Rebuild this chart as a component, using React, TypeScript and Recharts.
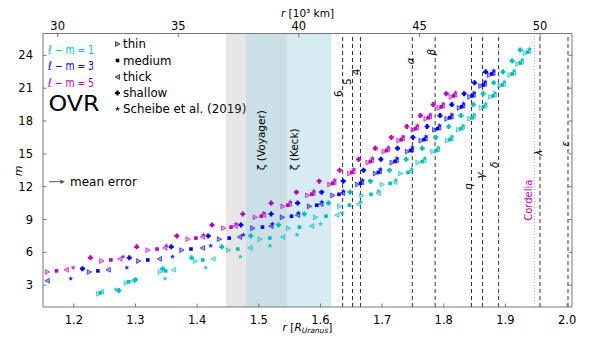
import React from "react";
import {
  Customized,
  ReferenceArea,
  ReferenceDot,
  ReferenceLine,
  Scatter,
  ScatterChart,
  XAxis,
  YAxis,
} from "recharts";

const FONT = "DejaVu Sans, sans-serif";
const CYAN = "#00bfbf";
const BLUE = "#0000ff";
const MAGENTA = "#bf00bf";
const SPINE = "#777";

// r in R_Uranus, the top axis shows the same range in 10^3 km
const R_URANUS_KM = 25559;
const rDomain = [1.15, 2.008];
const mDomain = [1, 26];
const rTicks = [1.2, 1.3, 1.4, 1.5, 1.6, 1.7, 1.8, 1.9, 2.0];
const kmTicks = [30, 35, 40, 45, 50];
const mTicks = [3, 6, 9, 12, 15, 18, 21, 24];

const modelKinds = ["thin", "medium", "thick", "shallow", "scheibe"];
const modelLabels = ["thin", "medium", "thick", "shallow", "Scheibe et al. (2019)"];
// small vertical stagger of each model above its m
const modelShift = [0.2, 0.3, 0.4, 0.5, 0.6];

// l - m = 1
const cyanM = [2, 3, 4, 5, 6, 7, 8, 9, 10, 11, 12, 13, 14, 15, 16, 17, 18, 19, 20, 21, 22, 23, 24];
const cyanThin = [1.240, 1.285, 1.340, 1.397, 1.451, 1.502, 1.548, 1.592, 1.631, 1.667, 1.700, 1.730, 1.758, 1.782, 1.806, 1.824, 1.842, 1.861, 1.876, 1.891, 1.907, 1.920, 1.932];
const cyanMedium = [1.243, 1.289, 1.349, 1.409, 1.466, 1.518, 1.566, 1.609, 1.647, 1.682, 1.713, 1.742, 1.765, 1.788, 1.810, 1.828, 1.846, 1.865, 1.880, 1.895, 1.911, 1.924, 1.936];
const cyanThick = [1.245, 1.296, 1.362, 1.426, 1.486, 1.539, 1.586, 1.627, 1.662, 1.694, 1.721, 1.746, 1.768, 1.790, 1.812, 1.830, 1.848, 1.867, 1.882, 1.897, 1.913, 1.926, 1.938];
const cyanShallow = [1.273, 1.300, 1.344, 1.391, 1.440, 1.487, 1.532, 1.574, 1.613, 1.648, 1.681, 1.712, 1.739, 1.765, 1.787, 1.808, 1.828, 1.848, 1.864, 1.881, 1.896, 1.911, 1.924];
const cyanScheibe = [1.268, 1.348, 1.414, 1.470, 1.518, 1.562, 1.600, 1.635, 1.665, 1.694, 1.722, 1.748, 1.769, 1.791, 1.813, 1.831, 1.849, 1.868, 1.883, 1.898, 1.914, 1.927, 1.939];

// l - m = 3
const blueM = [3, 4, 5, 6, 7, 8, 9, 10, 11, 12, 13, 14, 15, 16, 17, 18, 19, 20, 21, 22];
const blueThin = [null, 1.225, 1.305, 1.375, 1.436, 1.490, 1.538, 1.582, 1.620, 1.660, 1.689, 1.716, 1.741, 1.763, 1.785, 1.805, 1.825, 1.842, 1.860, 1.874];
const blueMedium = [null, 1.239, 1.320, 1.390, 1.452, 1.506, 1.553, 1.594, 1.630, 1.665, 1.694, 1.721, 1.746, 1.768, 1.790, 1.810, 1.829, 1.846, 1.864, 1.878];
const blueThick = [1.157, 1.256, 1.339, 1.409, 1.469, 1.520, 1.563, 1.601, 1.636, 1.667, 1.696, 1.723, 1.748, 1.770, 1.792, 1.812, 1.831, 1.848, 1.866, 1.880];
const blueShallow = [null, 1.214, 1.290, 1.358, 1.418, 1.471, 1.520, 1.563, 1.602, 1.637, 1.670, 1.698, 1.725, 1.750, 1.773, 1.794, 1.813, 1.833, 1.850, 1.868];
const blueScheibe = [1.195, 1.286, 1.360, 1.422, 1.475, 1.522, 1.564, 1.602, 1.637, 1.668, 1.697, 1.724, 1.749, 1.771, 1.793, 1.813, 1.832, 1.849, 1.867, 1.881];

// l - m = 5
const magentaM = [4, 5, 6, 7, 8, 9, 10, 11, 12, 13, 14, 15, 16, 17, 18, 19, 20];
const magentaThin = [1.157, 1.245, 1.320, 1.385, 1.443, 1.494, 1.539, 1.579, 1.615, 1.647, 1.677, 1.703, 1.727, 1.750, 1.771, 1.792, 1.812];
const magentaMedium = [1.172, 1.260, 1.335, 1.398, 1.455, 1.504, 1.547, 1.586, 1.620, 1.651, 1.681, 1.707, 1.731, 1.754, 1.775, 1.796, 1.816];
const magentaThick = [1.188, 1.275, 1.348, 1.409, 1.462, 1.508, 1.550, 1.588, 1.622, 1.653, 1.683, 1.709, 1.733, 1.756, 1.777, 1.798, 1.818];
const magentaShallow = [null, 1.227, 1.302, 1.367, 1.424, 1.474, 1.520, 1.561, 1.598, 1.631, 1.662, 1.689, 1.715, 1.740, 1.762, 1.783, 1.804];
const magentaScheibe = [1.199, 1.280, 1.350, 1.410, 1.463, 1.508, 1.551, 1.589, 1.623, 1.654, 1.684, 1.710, 1.734, 1.757, 1.778, 1.799, 1.819];

// ring radii and their label spots
const ringNames = ["6", "5", "4", "α", "β", "η", "γ", "δ", "λ", "ε"];
const ringR = [1.636, 1.652, 1.665, 1.749, 1.786, 1.845, 1.863, 1.889, 1.956, 2.0015];
const ringLabelR = [1.628, 1.643, 1.658, 1.746, 1.780, 1.840, 1.859, 1.881, 1.953, 1.996];
const ringLabelM = [20.5, 21.6, 22.5, 23.5, 24.3, 12.0, 13.0, 14.0, 15.1, 15.9];
const cordeliaR = 1.947;
const cordeliaLabel = { r: 1.937, m: 10.76 };

// zeta ring extents
const zetaVoyager = [1.447, 1.546];
const zetaKeck = [1.4795, 1.6175];

const families = [
  { label: "1", color: CYAN, m: cyanM, x: [cyanThin, cyanMedium, cyanThick, cyanShallow, cyanScheibe] },
  { label: "3", color: BLUE, m: blueM, x: [blueThin, blueMedium, blueThick, blueShallow, blueScheibe] },
  { label: "5", color: MAGENTA, m: magentaM, x: [magentaThin, magentaMedium, magentaThick, magentaShallow, magentaScheibe] },
];

// inside tick length in data units (about 3.5px each way)
const TICK_R = 0.0057;
const TICK_M = 0.32;

function markerEl(kind: string, cx: number, cy: number, color: string, key?: string) {
  if (kind === "thin" || kind === "thick") {
    const d = kind === "thin" ? 1 : -1;
    const pts = `${cx - 2 * d},${cy - 2.4} ${cx + 2.4 * d},${cy} ${cx - 2 * d},${cy + 2.4}`;
    return <polygon key={key} points={pts} fill={color} fillOpacity={0.35} stroke={color} strokeOpacity={0.8} strokeWidth={0.8} />;
  }
  if (kind === "medium") {
    return <rect key={key} x={cx - 1.8} y={cy - 1.8} width={3.6} height={3.6} fill={color} />;
  }
  if (kind === "shallow") {
    const a = 2.5;
    const w = 1.1;
    const p = `M${cx - w},${cy - a}H${cx + w}V${cy - w}H${cx + a}V${cy + w}H${cx + w}V${cy + a}H${cx - w}V${cy + w}H${cx - a}V${cy - w}H${cx - w}Z`;
    return <path key={key} d={p} fill={color} />;
  }
  const pts: string[] = [];
  for (let i = 0; i < 10; i++) {
    const rad = i % 2 === 0 ? 2.7 : 1.1;
    const ang = -Math.PI / 2 + (i * Math.PI) / 5;
    pts.push(`${cx + rad * Math.cos(ang)},${cy + rad * Math.sin(ang)}`);
  }
  return <polygon key={key} points={pts.join(" ")} fill={color} fillOpacity={0.85} />;
}

function shapeFor(kind: string, color: string) {
  return (props: any) => {
    const { cx, cy } = props;
    if (cx == null || cy == null) return <g />;
    return markerEl(kind, cx, cy, color);
  };
}

function rotatedLabel(text: string, color = "#000", italic = false, anchor: "middle" | "start" = "middle", size = 10.5) {
  return (props: any) => {
    const vb = props.viewBox || {};
    const x = vb.x + (vb.width || 0) / 2;
    const y = vb.y + (vb.height || 0) / 2;
    return (
      <text
        x={x}
        y={y}
        transform={`rotate(-90 ${x} ${y})`}
        textAnchor={anchor}
        dominantBaseline="central"
        fontFamily={FONT}
        fontSize={size}
        fontStyle={italic ? "italic" : "normal"}
        fill={color}
      >
        {text}
      </text>
    );
  };
}

function topTickLabel(text: string) {
  return (props: any) => {
    const vb = props.viewBox || {};
    const x = vb.x + (vb.width || 0) / 2;
    const y = vb.y + (vb.height || 0) / 2;
    return (
      <text x={x} y={y - 4} textAnchor="middle" fontFamily={FONT} fontSize={11.5} fill="#000">
        {text}
      </text>
    );
  };
}

function Overlay() {
  const lmBase = [53.5, 70, 86.5];
  const legendBase = [48, 64.5, 81, 97, 113];
  return (
    <g fontFamily={FONT}>
      {families.map((f, i) => (
        <text key={f.label} x={48} y={lmBase[i]} fontSize={12} fill={f.color} textLength={46} lengthAdjust="spacingAndGlyphs">
          {`ℓ − m = ${f.label}`}
        </text>
      ))}
      <text x={48.5} y={110.5} fontSize={22} fill="#000" textLength={51} lengthAdjust="spacingAndGlyphs">
        OVR
      </text>
      {modelKinds.map((k, i) => (
        <g key={k}>
          {markerEl(k, 117.5, legendBase[i] - 4, "#000")}
          <text x={123} y={legendBase[i]} fontSize={11.8} fill="#000">
            {modelLabels[i]}
          </text>
        </g>
      ))}
      <line x1={49} x2={62} y1={181.7} y2={181.7} stroke="#555" strokeWidth={1} />
      <polygon points="65,181.7 60.5,179.5 60.5,183.9" fill="#555" />
      <text x={70} y={185.8} fontSize={12} fill="#000">
        mean error
      </text>
      <text x={307.5} y={17} fontSize={10.5} textAnchor="middle" fill="#000">
        <tspan fontStyle="italic">r</tspan>
        <tspan> [10³ km]</tspan>
      </text>
      <text x={307.5} y={331} fontSize={10.5} textAnchor="middle" fill="#000">
        <tspan fontStyle="italic">r</tspan>
        <tspan> [</tspan>
        <tspan fontStyle="italic">R</tspan>
        <tspan fontStyle="italic" fontSize={7.5} dy={2}>Uranus</tspan>
        <tspan dy={-2}>]</tspan>
      </text>
      <text x={18} y={171} fontSize={11} fontStyle="italic" textAnchor="middle" dominantBaseline="central" transform="rotate(-90 18 171)" fill="#000">
        m
      </text>
    </g>
  );
}

export default function App() {
  const tickStyle = { fontSize: 11.5, fill: "#000", fontFamily: FONT };
  const kmTickR = kmTicks.map((km) => (km * 1000) / R_URANUS_KM);
  return (
    <div style={{ position: "absolute", left: 0, top: 0, width: 598, height: 342, background: "#fff" }}>
      <ScatterChart width={598} height={342} margin={{ top: 33.5, right: 26, bottom: 7, left: 8 }}>
        <XAxis
          dataKey="r"
          type="number"
          domain={rDomain}
          ticks={rTicks}
          allowDataOverflow
          tickFormatter={(v) => Number(v).toFixed(1)}
          tick={tickStyle}
          tickLine={false}
          tickMargin={3}
          height={28}
          axisLine={{ stroke: SPINE }}
        />
        <YAxis
          dataKey="m"
          type="number"
          domain={mDomain}
          ticks={mTicks}
          allowDataOverflow
          tick={tickStyle}
          tickLine={false}
          tickMargin={4}
          width={35}
          axisLine={{ stroke: SPINE }}
        />

        <ReferenceArea x1={zetaVoyager[0]} x2={zetaVoyager[1]} fill="#808080" fillOpacity={0.2} stroke="none" ifOverflow="visible" />
        <ReferenceArea x1={zetaKeck[0]} x2={zetaKeck[1]} fill="#add8e6" fillOpacity={0.5} stroke="none" ifOverflow="visible" />

        {ringR.map((r, i) => (
          <ReferenceLine key={ringNames[i]} x={r} stroke="#333" strokeDasharray="4 3" strokeWidth={1} />
        ))}
        <ReferenceLine x={cordeliaR} stroke={MAGENTA} strokeOpacity={0.5} strokeDasharray="1 2" strokeWidth={1} />

        {/* frame: right and top spines */}
        <ReferenceLine x={rDomain[1]} stroke={SPINE} strokeWidth={1} ifOverflow="visible" />
        <ReferenceLine y={mDomain[1]} stroke={SPINE} strokeWidth={1} ifOverflow="visible" />

        {/* inward ticks on all four sides */}
        {rTicks.map((t) => (
          <ReferenceLine key={`bt${t}`} segment={[{ x: t, y: mDomain[0] }, { x: t, y: mDomain[0] + TICK_M }]} stroke={SPINE} ifOverflow="visible" />
        ))}
        {kmTickR.map((t) => (
          <ReferenceLine key={`tt${t}`} segment={[{ x: t, y: mDomain[1] }, { x: t, y: mDomain[1] - TICK_M }]} stroke={SPINE} ifOverflow="visible" />
        ))}
        {mTicks.map((t) => (
          <ReferenceLine key={`lt${t}`} segment={[{ x: rDomain[0], y: t }, { x: rDomain[0] + TICK_R, y: t }]} stroke={SPINE} ifOverflow="visible" />
        ))}
        {mTicks.map((t) => (
          <ReferenceLine key={`rt${t}`} segment={[{ x: rDomain[1], y: t }, { x: rDomain[1] - TICK_R, y: t }]} stroke={SPINE} ifOverflow="visible" />
        ))}

        {families.map((f) =>
          modelKinds.map((k, ki) => (
            <Scatter
              key={`${f.label}-${k}`}
              data={f.m
                .map((m, i) => ({ r: f.x[ki][i], m: m + modelShift[ki] }))
                .filter((p) => p.r != null)}
              fill={f.color}
              shape={shapeFor(k, f.color)}
              isAnimationActive={false}
            />
          ))
        )}

        {kmTicks.map((km, i) => (
          <ReferenceDot key={`km${km}`} x={kmTickR[i]} y={mDomain[1]} r={0} fill="none" stroke="none" ifOverflow="visible" label={topTickLabel(String(km))} />
        ))}

        {ringNames.map((name, i) => (
          <ReferenceDot
            key={`lbl-${name}`}
            x={ringLabelR[i]}
            y={ringLabelM[i]}
            r={0}
            fill="none"
            stroke="none"
            label={rotatedLabel(name, "#000", i >= 3, "middle", 10.5)}
          />
        ))}
        <ReferenceDot x={cordeliaLabel.r} y={cordeliaLabel.m} r={0} fill="none" stroke="none" label={rotatedLabel("Cordelia", MAGENTA, false, "middle", 10)} />
        <ReferenceDot x={1.504} y={13.5} r={0} fill="none" stroke="none" label={rotatedLabel("ζ (Voyager)", "#000", false, "start", 10.5)} />
        <ReferenceDot x={1.557} y={13.5} r={0} fill="none" stroke="none" label={rotatedLabel("ζ (Keck)", "#000", false, "start", 10.5)} />

        <Customized component={Overlay} />
      </ScatterChart>
    </div>
  );
}
